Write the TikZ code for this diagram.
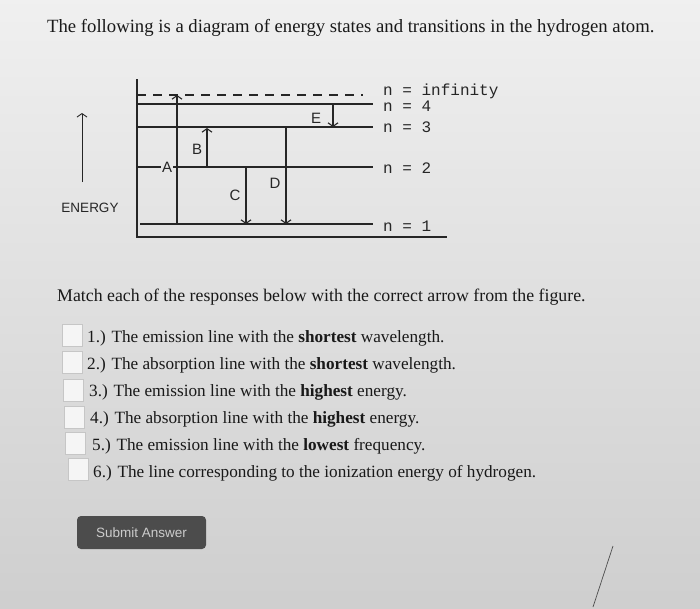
\documentclass[tikz,border=0pt]{standalone}
\usepackage{fontspec}
\setmainfont{Liberation Serif}
\setsansfont{Liberation Sans}
\setmonofont{Liberation Mono}
\usetikzlibrary{arrows.meta,positioning}
\tikzstyle{level} = [line width=1.1pt, black!85]
\tikzstyle{trans} = [line width=1.1pt, black!85,
                     -{Straight Barb[length=3.5pt,width=10pt]}]
\tikzstyle{tlabel} = [font=\sffamily\fontsize{15}{15}\selectfont,
                      inner sep=1pt, text=black!85]
\tikzstyle{nlabel} = [font=\ttfamily\fontsize{16}{16}\selectfont,
                      anchor=west, inner sep=0pt, text=black!85]
\tikzstyle{qtext} = [font=\fontsize{17.2}{17.2}\selectfont,
                     anchor=west, inner sep=0pt, text=black!90]
\tikzstyle{tickbox} = [draw=gray!45, fill=gray!8, line width=0.8pt,
                       minimum width=20pt, minimum height=22pt, inner sep=0pt]
\tikzstyle{submitbtn} = [fill=black!70, rounded corners=4pt,
                         minimum width=129pt, minimum height=33pt,
                         font=\sffamily\fontsize{13.5}{13.5}\selectfont,
                         text=gray!40]

\begin{document}
\begin{tikzpicture}[x=1pt,y=-1pt]
  \shade[top color=gray!12, bottom color=gray!38] (0,0) rectangle (700,608);
  \useasboundingbox (0,0) rectangle (700,608);

  % heading
  \node[qtext, font=\fontsize{18.7}{18.7}\selectfont] (title) at (47,28)
    {The following is a diagram of energy states and transitions in the hydrogen atom.};

  % energy axis
  \coordinate (elow) at (82,182);
  \coordinate (ehigh) at (82,113);
  \draw[trans, line width=0.9pt] (elow) -- (ehigh);
  \node[tlabel, font=\sffamily\fontsize{13.5}{13.5}\selectfont] (energy) at (90,208) {ENERGY};

  % frame
  \coordinate (ftop) at (137,79);
  \coordinate (fcorner) at (137,237);
  \coordinate (fend) at (447,237);
  \draw[level] (ftop) -- (fcorner) -- (fend);

  % levels
  \draw[level, dash pattern=on 9pt off 7pt] (137,95) coordinate (inf0) -- (363,95) coordinate (inf1);
  \draw[level] (137,104) coordinate (l40) -- (373,104) coordinate (l41);
  \draw[level] (137,127) coordinate (l30) -- (373,127) coordinate (l31);
  \node[tlabel] (A) at (167,167) {A};
  \draw[level] (137,167) coordinate (l20) -- (A.west);
  \draw[level] (A.east) -- (373,167) coordinate (l21);
  \draw[level] (140,224) coordinate (l10) -- (373,224) coordinate (l11);

  \node[nlabel] (ninf) at (383,91) {n = infinity};
  \node[nlabel] (n4) at (383,106) {n = 4};
  \node[nlabel] (n3) at (383,127) {n = 3};
  \node[nlabel] (n2) at (383,168) {n = 2};
  \node[nlabel] (n1) at (383,226) {n = 1};

  % transitions
  \coordinate (a0) at (177,224);
  \coordinate (a1) at (177,95);
  \draw[trans] (a0) -- (a1);
  \coordinate (b0) at (207,167);
  \coordinate (b1) at (207,128);
  \draw[trans] (b0) -- (b1);
  \node[tlabel] (B) at (197,149) {B};
  \coordinate (c0) at (246,167);
  \coordinate (c1) at (246,224);
  \draw[trans] (c0) -- (c1);
  \node[tlabel] (C) at (235,195) {C};
  \coordinate (d0) at (286,127);
  \coordinate (d1) at (286,224);
  \draw[trans] (d0) -- (d1);
  \node[tlabel] (D) at (275,183) {D};
  \coordinate (e0) at (333,104);
  \coordinate (e1) at (333,127);
  \draw[trans] (e0) -- (e1);
  \node[tlabel] (E) at (316,118) {E};

  % question
  \node[qtext, font=\fontsize{17.8}{17.8}\selectfont] (match) at (57,297)
    {Match each of the responses below with the correct arrow from the figure.};
  \foreach \i/\bx/\by/\tx/\ty/\txt in {
      1/72/335/87/338/{The emission line with the \textbf{shortest} wavelength.},
      2/72/362/87/365/{The absorption line with the \textbf{shortest} wavelength.},
      3/73/390/89/392/{The emission line with the \textbf{highest} energy.},
      4/74/417/90/419/{The absorption line with the \textbf{highest} energy.},
      5/75/443/92/446/{The emission line with the \textbf{lowest} frequency.},
      6/78/469/93/473/{The line corresponding to the ionization energy of hydrogen.}}{
    \node[tickbox] (box\i) at (\bx,\by) {};
    \node[qtext] (item\i) at (\tx,\ty) {\i.) \txt};
  }

  \node[submitbtn] (submit) at (141.5,532.5) {Submit Answer};

  % stray pen stroke
  \draw[black!70, line width=0.7pt] (613,546) -- (593,607);
\end{tikzpicture}
\end{document}
